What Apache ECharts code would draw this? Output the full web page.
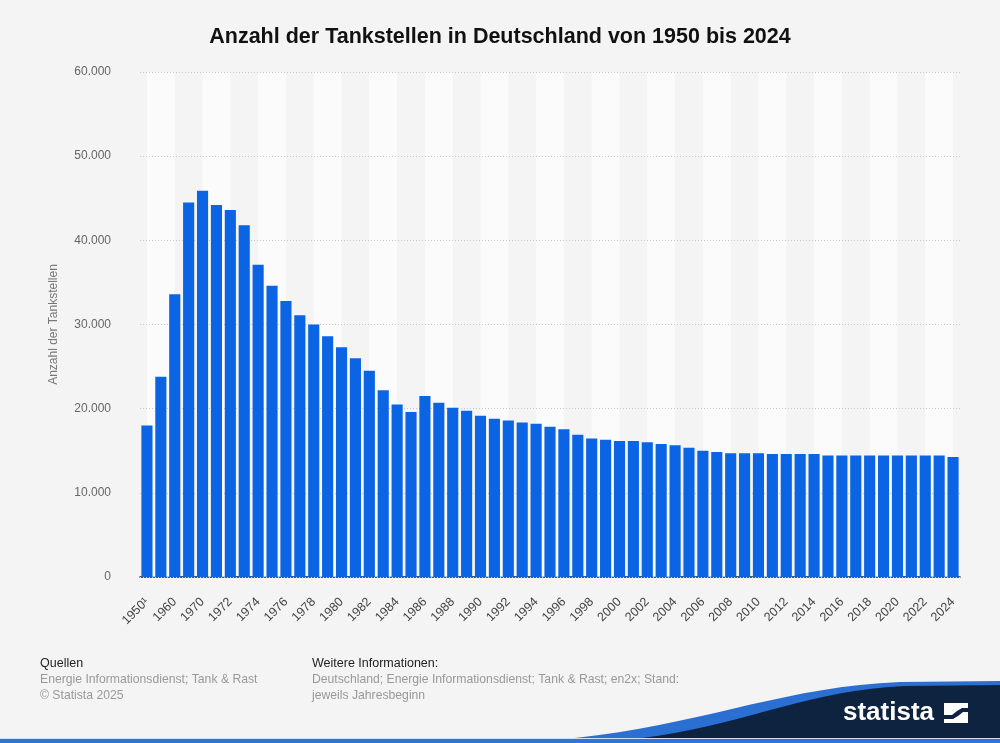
<!DOCTYPE html>
<html>
<head>
<meta charset="utf-8">
<script src="https://cdn.jsdelivr.net/npm/echarts@6/dist/echarts.min.js"></script>
<style>
    html, body { margin: 0; padding: 0; background: #f4f4f4; }
    #chart { width: 1000px; height: 743px; }
</style>
</head>
<body>
<div id="chart"></div>
<script>
// Jahre (1950-1970 im 5-Jahres-Abstand, danach jährlich)
const years = ['1950¹', '1955', '1960', '1965', '1970', '1971', '1972', '1973', '1974', '1975',
    '1976', '1977', '1978', '1979', '1980', '1981', '1982', '1983', '1984', '1985',
    '1986', '1987', '1988', '1989', '1990', '1991', '1992', '1993', '1994', '1995',
    '1996', '1997', '1998', '1999', '2000', '2001', '2002', '2003', '2004', '2005',
    '2006', '2007', '2008', '2009', '2010', '2011', '2012', '2013', '2014', '2015',
    '2016', '2017', '2018', '2019', '2020', '2021', '2022', '2023', '2024'];

const stations = [18000, 23800, 33600, 44500, 45900, 44200, 43600, 41800, 37100, 34600,
    32800, 31100, 30000, 28600, 27300, 26000, 24500, 22200, 20500, 19600,
    21500, 20700, 20100, 19750, 19150, 18800, 18600, 18350, 18200, 17850,
    17550, 16900, 16450, 16300, 16150, 16150, 16000, 15800, 15650, 15350,
    15000, 14850, 14700, 14700, 14700, 14600, 14600, 14600, 14600, 14450,
    14450, 14450, 14450, 14450, 14450, 14450, 14450, 14450, 14250];

const yTicks = { min: 0, max: 60000, step: 10000 };

const fmt = v => String(v).replace(/\B(?=(\d{3})+(?!\d))/g, '.');

// helle Streifen im Hintergrund, jeweils von Balkenmitte zu Balkenmitte
// (auf einer unsichtbaren Wertachse 0..Anzahl Jahre, Balkenmitte = i + 0.5)
const stripes = [];
for (let i = 0; i < years.length - 1; i += 4) {
    stripes.push([{ xAxis: i + 0.5 }, { xAxis: Math.min(i + 2, years.length - 1) + 0.5 }]);
}

// Bezier-Kurve als Punktliste fuer die Welle unten rechts
const bezier = (p0, p1, p2, p3) => {
    const pts = [];
    for (let t = 0; t <= 1.0001; t += 0.05) {
        const u = 1 - t;
        pts.push([
            u * u * u * p0[0] + 3 * u * u * t * p1[0] + 3 * u * t * t * p2[0] + t * t * t * p3[0],
            u * u * u * p0[1] + 3 * u * u * t * p1[1] + 3 * u * t * t * p2[1] + t * t * t * p3[1],
        ]);
    }
    return pts;
};
const waveBlue = bezier([500, 743], [680, 738], [760, 688], [900, 682]).concat([[1000, 681], [1000, 743]]);
const waveNavy = bezier([580, 743], [725, 738], [790, 691], [905, 686]).concat([[1000, 685], [1000, 743]]);

const chart = echarts.init(document.getElementById('chart'));

const grey = '#999';
const font = 'Liberation Sans, Arial, sans-serif';

chart.setOption({
    backgroundColor: '#f4f4f4',
    textStyle: { fontFamily: font },
    title: {
        text: 'Anzahl der Tankstellen in Deutschland von 1950 bis 2024',
        left: 'center',
        top: 21,
        textStyle: { fontSize: 21.5, fontWeight: 'bold', color: '#111', fontFamily: font },
    },
    grid: { left: 140, right: 40, top: 72, bottom: 166 },
    xAxis: [{
        type: 'category',
        data: years,
        axisLine: { lineStyle: { color: '#222', width: 1.5 } },
        axisTick: { show: false },
        axisLabel: {
            interval: 1,
            rotate: 45,
            color: '#444',
            fontSize: 12.5,
            margin: 23,
        },
    }, {
        type: 'value',
        min: 0,
        max: years.length,
        show: false,
        splitLine: { show: false },
    }],
    yAxis: {
        type: 'value',
        min: yTicks.min,
        max: yTicks.max,
        interval: yTicks.step,
        z: 1.5,
        name: 'Anzahl der Tankstellen',
        nameLocation: 'middle',
        nameGap: 80,
        nameTextStyle: { color: '#777', fontSize: 12 },
        axisLine: { show: false },
        axisTick: { show: false },
        axisLabel: { color: '#666', fontSize: 12, margin: 29, formatter: fmt },
        splitLine: { lineStyle: { color: '#c8c8c8', type: [1, 2], width: 1 } },
    },
    series: [{
        type: 'bar',
        data: stations,
        z: 2,
        barCategoryGap: '20%',
        itemStyle: { color: '#0a64e4' },
    }, {
        type: 'line',
        xAxisIndex: 1,
        data: [],
        z: 1,
        silent: true,
        markArea: {
            silent: true,
            z: 1,
            itemStyle: { color: 'rgba(255,255,255,0.65)' },
            data: stripes,
        },
    }],
    graphic: [
        { type: 'text', x: 40, y: 657, style: { text: 'Quellen', fill: '#222', font: '12.5px ' + font } },
        { type: 'text', x: 40, y: 674, style: { text: 'Energie Informationsdienst; Tank & Rast', fill: grey, font: '12.2px ' + font } },
        { type: 'text', x: 40, y: 690, style: { text: '© Statista 2025', fill: grey, font: '12.2px ' + font } },
        { type: 'text', x: 312, y: 657, style: { text: 'Weitere Informationen:', fill: '#222', font: '12.5px ' + font } },
        { type: 'text', x: 312, y: 674, style: { text: 'Deutschland; Energie Informationsdienst; Tank & Rast; en2x; Stand:', fill: grey, font: '12.2px ' + font } },
        { type: 'text', x: 312, y: 690, style: { text: 'jeweils Jahresbeginn', fill: grey, font: '12.2px ' + font } },
        // Statista-Welle unten rechts
        { type: 'polygon', shape: { points: waveBlue }, style: { fill: '#2c6fd3' } },
        { type: 'polygon', shape: { points: waveNavy }, style: { fill: '#0e2340' } },
        { type: 'rect', shape: { x: 0, y: 738, width: 1000, height: 1 }, style: { fill: '#cfe0f4' } },
        { type: 'rect', shape: { x: 0, y: 739, width: 1000, height: 4 }, style: { fill: '#2f74d8' } },
        {
            type: 'text', x: 843, y: 713,
            style: {
                text: 'statista', fill: '#fff', verticalAlign: 'middle',
                font: 'bold 26px "Liberation Sans", sans-serif',
            },
        },
        { type: 'rect', shape: { x: 944, y: 703, width: 24, height: 20 }, style: { fill: '#fff' } },
        {
            type: 'polygon',
            shape: { points: [[944, 715], [952, 715], [957, 711], [962, 708], [968, 708], [968, 712], [963, 712], [958, 716], [953, 719], [944, 719]] },
            style: { fill: '#0e2340' },
        },
    ],
});
</script>
</body>
</html>
